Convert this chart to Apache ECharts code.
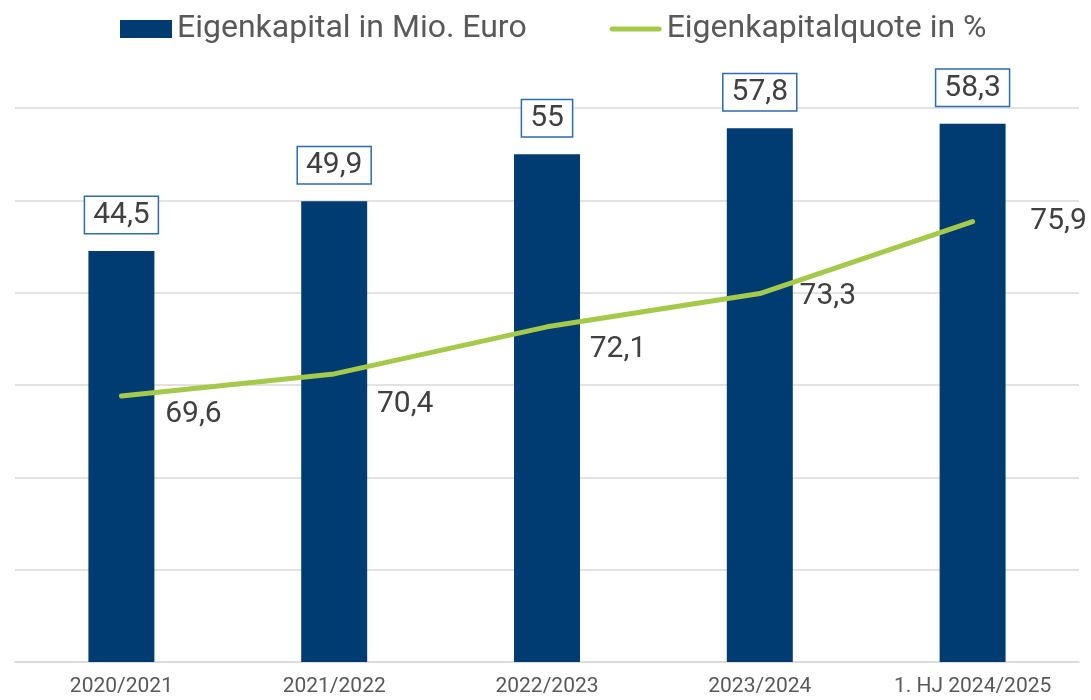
<!DOCTYPE html>
<html>
<head>
<meta charset="utf-8">
<script src="https://cdn.jsdelivr.net/npm/echarts@6/dist/echarts.min.js"></script>
<style>
  html, body { margin: 0; padding: 0; background: #fff; }
  #chart { width: 1091px; height: 700px; }
</style>
</head>
<body>
<div id="chart"></div>
<script>
var categories = ['2020/2021', '2021/2022', '2022/2023', '2023/2024', '1. HJ 2024/2025'];
var eigenkapital = [44.5, 49.9, 55, 57.8, 58.3];
var quote = [69.6, 70.4, 72.1, 73.3, 75.9];
// where each quote label sits relative to its point
var quoteOffsets = [[72, 18], [71, 31], [71, 23], [68, 3], [86, 0]];

var myChart = echarts.init(document.getElementById('chart'));

function fmt(v) {
    return String(v).replace('.', ',');
}

var option = {
    animation: false,
    textStyle: { fontFamily: 'Roboto' },
    legend: {
        top: 8,
        left: 115,
        itemWidth: 52,
        itemHeight: 18,
        itemGap: 83,
        textStyle: { fontSize: 32, color: '#595959' },
        data: [
            { name: 'Eigenkapital in Mio. Euro', icon: 'rect' },
            {
                name: 'Eigenkapitalquote in %',
                icon: 'path://M2.5,0 L49.5,0 A2.5,2.5 0 0 1 49.5,5 L2.5,5 A2.5,2.5 0 0 1 2.5,0 Z',
                itemStyle: { color: '#A5C94A' }
            }
        ]
    },
    grid: {
        left: 15,
        right: 12,
        top: 108,
        bottom: 38
    },
    xAxis: {
        type: 'category',
        data: categories,
        axisTick: { show: false },
        axisLine: { lineStyle: { color: '#D9D9D9', width: 1.5 } },
        axisLabel: { fontSize: 21, color: '#595959', margin: 14 }
    },
    yAxis: [
        {
            type: 'value',
            min: 0,
            max: 60,
            interval: 10,
            axisLabel: { show: false },
            axisLine: { show: false },
            splitLine: { lineStyle: { color: '#D9D9D9', width: 1.5 } }
        },
        {
            type: 'value',
            min: 60,
            max: 80,
            interval: 20 / 6,
            axisLabel: { show: false },
            axisLine: { show: false },
            splitLine: { show: false }
        }
    ],
    series: [
        {
            name: 'Eigenkapital in Mio. Euro',
            type: 'bar',
            data: eigenkapital,
            barWidth: '31%',
            itemStyle: { color: '#003B71' },
            label: {
                show: true,
                position: 'top',
                distance: 18,
                fontSize: 30,
                lineHeight: 31,
                color: '#404040',
                borderColor: '#2E6BB0',
                borderWidth: 1.5,
                padding: [3, 8, 2, 8],
                backgroundColor: '#fff',
                formatter: function (p) { return fmt(p.value); }
            }
        },
        {
            name: 'Eigenkapitalquote in %',
            type: 'line',
            yAxisIndex: 1,
            symbol: 'circle',
            symbolSize: 0.1,
            showSymbol: true,
            data: quote.map(function (v, i) {
                return {
                    value: v,
                    label: { offset: quoteOffsets[i] }
                };
            }),
            lineStyle: { color: '#A5C94A', width: 5, cap: 'round' },
            itemStyle: { color: '#A5C94A' },
            label: {
                show: true,
                position: 'inside',
                fontSize: 30,
                color: '#404040',
                formatter: function (p) { return fmt(p.value); }
            }
        }
    ]
};

myChart.setOption(option);
</script>
</body>
</html>
